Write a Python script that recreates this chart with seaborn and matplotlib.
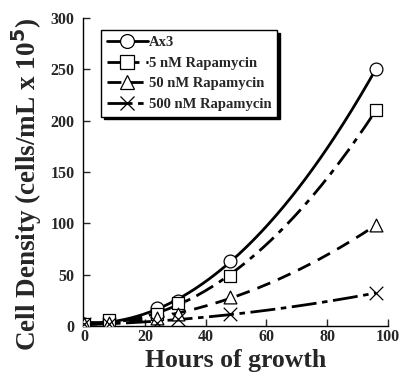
import numpy as np
import pandas as pd
import matplotlib
matplotlib.use('Agg')
import matplotlib.pyplot as plt
from matplotlib.lines import Line2D
import seaborn as sns

# measured cell densities (cells/mL x 10^5)
hours = [0, 8, 24, 31, 48, 96]
ax3 = [2, 5, 18, 24, 63, 250]
rapa_5 = [2, 6, 12, 22, 49, 210]
rapa_50 = [2, 3, 8, 12, 28, 98]
rapa_500 = [2, 2, 3, 7, 12, 32]

labels = ['Ax3', '5 nM Rapamycin', '50 nM Rapamycin', '500 nM Rapamycin']
series = [ax3, rapa_5, rapa_50, rapa_500]
markers = ['o', 's', '^', 'x']
dashes = ['-', (0, (7, 2.5, 2, 2.5)), (0, (5, 3)), (0, (9, 2, 2, 2))]

sns.set_style('ticks')
plt.rcParams['font.family'] = ['Liberation Serif', 'DejaVu Serif']
plt.rcParams['font.weight'] = 'bold'

fig = plt.figure(figsize=(4.02, 3.80), dpi=100)
ax = fig.add_axes([0.206, 0.142, 0.759, 0.811])

t_fit = np.linspace(0, 96, 200)
handles = []
for lab, vals, mk, ls in zip(labels, series, markers, dashes):
    # second order polynomial fit through the measurements
    coef = np.polyfit(hours, vals, 2)
    fit = pd.DataFrame({'t': t_fit, 'y': np.polyval(coef, t_fit)})
    sns.lineplot(data=fit, x='t', y='y', ax=ax, color='black', lw=2,
                 linestyle=ls, legend=False)
    pts = pd.DataFrame({'t': hours, 'y': vals})
    if mk == 'x':
        sns.scatterplot(data=pts, x='t', y='y', ax=ax, marker='x', s=95,
                        color='black', linewidth=0.9, zorder=3, legend=False)
    else:
        sns.scatterplot(data=pts, x='t', y='y', ax=ax, marker=mk, s=85,
                        facecolor='white', edgecolor='black', linewidth=0.9,
                        zorder=3, legend=False)
    handles.append(Line2D([], [], color='black', lw=2, linestyle=ls, marker=mk,
                          markersize=10, markerfacecolor='white',
                          markeredgecolor='black', markeredgewidth=0.9))

ax.set_xlim(-0.5, 100)
ax.set_ylim(0, 300)
ax.set_xticks([0, 20, 40, 60, 80, 100])
ax.set_yticks([0, 50, 100, 150, 200, 250, 300])
ax.tick_params(direction='in', length=5, width=1, labelsize=11.5)
ax.tick_params(axis='y', pad=6)
ax.tick_params(axis='x', pad=2)
for s in ['top', 'right']:
    ax.spines[s].set_visible(False)
for s in ['left', 'bottom']:
    ax.spines[s].set_linewidth(1)
    ax.spines[s].set_color('black')
for lbl in ax.get_xticklabels() + ax.get_yticklabels():
    lbl.set_fontweight('bold')

ax.set_xlabel('Hours of growth', fontsize=18.5, fontweight='bold', labelpad=3)
ax.set_ylabel('Cell Density (cells/mL x 10$^{\\mathbf{5}}$)', fontsize=19.5,
              fontweight='bold')
ax.yaxis.set_label_coords(-0.127, 0.46)

leg = ax.legend(handles, labels, loc='upper left', bbox_to_anchor=(0.06, 0.96),
                fontsize=10.5, handlelength=2.8, handletextpad=0.05,
                labelspacing=0.5, borderpad=0.4, frameon=True, fancybox=False,
                shadow={'color': 'black', 'alpha': 1}, borderaxespad=0)
leg.get_frame().set_edgecolor('black')
leg.get_frame().set_linewidth(1)
for txt in leg.get_texts():
    txt.set_fontweight('bold')

fig.savefig('out.png', dpi=100)
